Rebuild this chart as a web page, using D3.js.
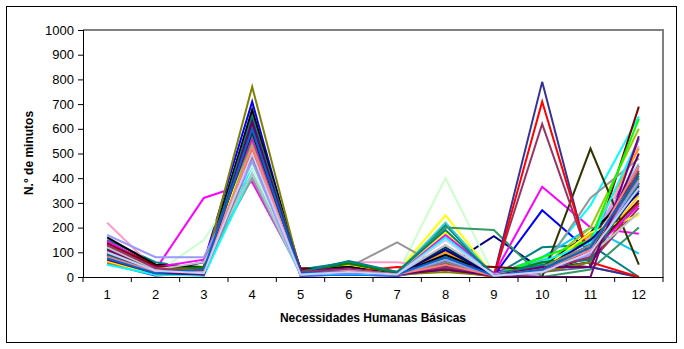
<!DOCTYPE html>
<html><head><meta charset="utf-8">
<script src="https://cdn.jsdelivr.net/npm/d3@7"></script>
<style>body{margin:0;background:#fff}svg{display:block}text{font-family:"Liberation Sans",Arial,sans-serif}</style>
</head><body><svg id="c" width="684" height="349"></svg>
<script>
const categories = ["1","2","3","4","5","6","7","8","9","10","11","12"];
const yTicks = [0,100,200,300,400,500,600,700,800,900,1000];
const seriesColors = ["#000080","#FF00FF","#FFFF00","#00FFFF","#800080","#800000","#008080","#0000FF","#00CCFF","#CCFFCC","#FFFF99","#99CCFF","#FF99CC","#CC99FF","#FFCC99","#3366FF","#33CCCC","#99CC00","#FFCC00","#FF9900","#FF6600","#666699","#969696","#003366","#339966","#003300","#333300","#993300","#993366","#333399","#333333","#000000","#FF0000","#00FF00","#FFFF00","#FF00FF","#00FFFF","#800000","#008000","#000080","#808000","#800080","#008080","#C0C0C0","#808080","#9999FF","#993366","#660066","#FF8080","#0066CC","#CCCCFF"];
const seriesValues = [
 [80,20,30,640,10,20,5,40,165,30,60,380],
 [120,30,320,385,20,30,10,60,10,365,200,175],
 [70,10,60,580,15,40,20,250,5,40,150,260],
 [60,15,5,450,10,20,10,180,5,50,290,650],
 [100,30,40,600,20,35,10,40,20,60,40,560],
 [140,50,20,520,35,40,20,30,5,20,80,690],
 [150,60,30,620,30,60,15,210,5,120,130,0],
 [90,20,60,710,5,10,5,60,5,270,100,350],
 [100,20,10,480,10,30,10,180,10,80,200,95],
 [95,15,150,450,15,20,10,400,10,30,60,300],
 [85,10,20,560,10,20,10,150,5,20,100,420],
 [110,25,15,520,20,25,20,170,10,50,150,460],
 [220,30,20,500,15,60,60,40,10,20,120,530],
 [75,15,25,470,10,15,10,90,5,10,160,440],
 [65,10,15,600,15,20,10,60,5,20,110,380],
 [55,5,20,560,5,10,5,30,5,60,140,350],
 [105,30,15,540,20,30,15,220,5,70,100,300],
 [80,20,30,600,10,40,10,180,5,40,200,600],
 [70,15,25,550,15,50,15,190,5,30,90,330],
 [90,20,20,580,10,30,10,100,5,20,170,520],
 [60,10,10,510,10,20,10,50,5,40,120,400],
 [100,25,10,490,15,25,10,80,10,20,40,0],
 [95,20,40,400,15,40,140,30,5,30,320,480],
 [130,40,20,640,25,30,10,120,5,30,60,370],
 [120,40,30,590,20,60,20,200,190,0,30,200],
 [110,35,30,660,25,40,10,80,5,20,100,450],
 [85,20,10,680,15,20,10,60,5,0,520,50],
 [75,15,20,610,10,25,10,30,5,20,60,300],
 [125,40,30,650,25,35,10,70,5,620,60,280],
 [90,20,30,600,20,30,10,50,5,790,40,0],
 [100,25,20,560,15,30,10,110,5,40,150,420],
 [160,50,40,670,30,40,10,90,10,40,180,360],
 [80,15,40,500,10,20,40,30,0,710,60,0],
 [70,20,30,540,15,30,10,70,5,80,150,640],
 [65,10,20,570,10,20,10,180,5,30,180,250],
 [145,40,70,560,25,30,10,170,15,40,100,290],
 [50,10,5,420,10,15,10,160,5,60,140,560],
 [135,45,30,620,30,30,10,50,40,30,100,310],
 [115,30,40,580,20,55,15,40,5,60,80,420],
 [90,25,30,590,20,25,10,110,5,30,150,340],
 [100,30,30,770,20,30,10,20,5,20,60,400],
 [110,35,10,640,25,35,10,40,5,0,0,570],
 [95,30,20,650,20,65,20,190,10,50,70,380],
 [120,30,60,420,15,30,10,130,10,30,90,260],
 [85,20,15,480,10,20,10,60,5,40,130,380],
 [170,80,80,470,10,20,10,70,5,20,90,390],
 [130,35,20,600,20,30,10,40,5,30,80,430],
 [70,15,10,630,15,20,10,30,5,40,40,500],
 [80,20,20,530,10,25,10,50,5,30,110,450],
 [75,15,30,600,15,20,10,80,5,30,120,410],
 [100,25,15,500,10,20,10,150,5,20,100,360]
];
const yTitle = "N.° de minutos";
const xTitle = "Necessidades Humanas Básicas";

const svg = d3.select("#c");
const L = 83, R = 663, T = 30, B = 277;
svg.append("rect").attr("x",6.5).attr("y",6.5).attr("width",670).attr("height",336)
  .attr("fill","#fff").attr("stroke","#000").attr("stroke-width",1);
svg.append("path").attr("d",`M${L},${T}H${R}V${B}`).attr("fill","none").attr("stroke","#808080").attr("stroke-width",2);

const x = d3.scaleBand().domain(categories).range([L,R]);
const y = d3.scaleLinear().domain([0,1000]).range([B,T]);

const line = d3.line().x((d,i)=>x(categories[i])+x.bandwidth()/2).y(d=>y(d));
const g = svg.append("g");
seriesValues.forEach((vals,i)=>{
  g.append("path").attr("d",line(vals)).attr("fill","none")
   .attr("stroke",seriesColors[i%seriesColors.length]).attr("stroke-width",2);
});

const yAxis = d3.axisLeft(y).tickValues(yTicks).tickSize(5).tickPadding(4).tickFormat(d3.format("d"));
const ya = svg.append("g").attr("transform",`translate(${L},0)`).call(yAxis);
const xAxis = d3.axisBottom(x).tickSize(0).tickPadding(13);
const xa = svg.append("g").attr("transform",`translate(0,${B})`).call(xAxis);
xa.selectAll(".bt").data(d3.range(categories.length+1)).enter().append("line")
  .attr("x1",d=>L+d*x.step()).attr("x2",d=>L+d*x.step()).attr("y1",0).attr("y2",5).attr("stroke","#000");
[ya,xa].forEach(a=>{a.select(".domain").attr("stroke","#000");a.selectAll("text").attr("font-size",13).attr("fill","#000").attr("font-family","Liberation Sans, Arial, sans-serif");a.selectAll(".tick line").attr("stroke","#000");});
svg.append("line").attr("x1",L).attr("x2",R).attr("y1",B+0.5).attr("y2",B+0.5).attr("stroke","#000");
svg.append("line").attr("x1",L+0.5).attr("x2",L+0.5).attr("y1",T).attr("y2",B).attr("stroke","#000");

svg.append("text").attr("x",373).attr("y",322).attr("text-anchor","middle")
  .attr("font-size",12).attr("font-weight","bold").text(xTitle);
svg.append("text").attr("transform","translate(33,153) rotate(-90)").attr("text-anchor","middle")
  .attr("font-size",12).attr("font-weight","bold").text(yTitle);
</script></body></html>
